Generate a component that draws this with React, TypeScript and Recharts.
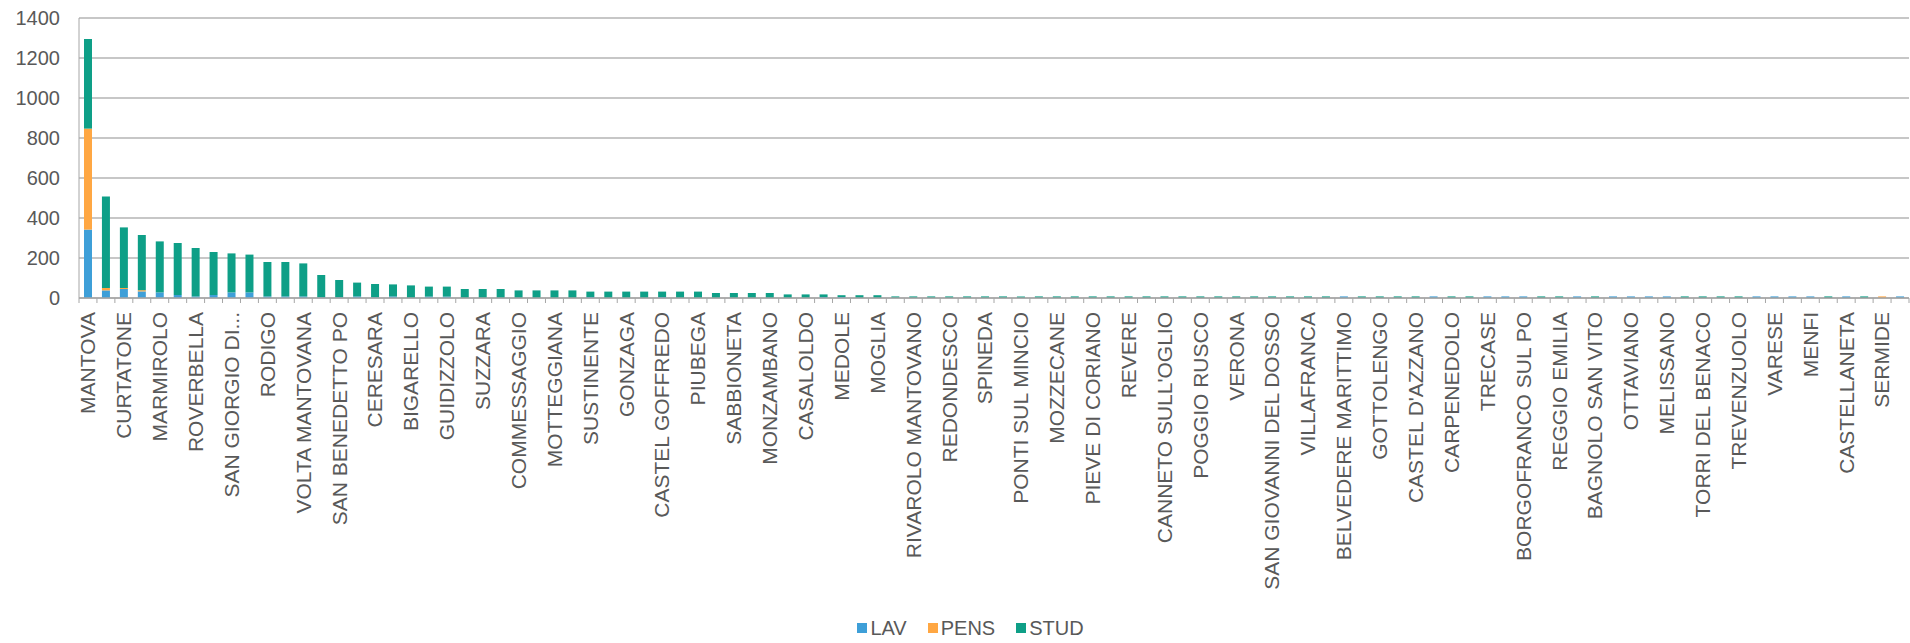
import { BarChart, Bar, XAxis, YAxis, CartesianGrid, Legend } from "recharts";

const categories = [
  "MANTOVA", "PORTO MANTOVANO", "CURTATONE", "BORGO VIRGILIO", "MARMIROLO",
  "CASTELLUCCHIO", "ROVERBELLA", "CASTEL D'ARIO", "SAN GIORGIO DI...", "GOITO",
  "RODIGO", "VILLIMPENTA", "VOLTA MANTOVANA", "CASTELBELFORTE", "SAN BENEDETTO PO",
  "SAN MARTINO DALL'ARGINE", "CERESARA", "ASOLA", "BIGARELLO", "DOSOLO",
  "GUIDIZZOLO", "QUISTELLO", "SUZZARA", "MARCARIA", "COMMESSAGGIO",
  "GAZZUOLO", "MOTTEGGIANA", "OSTIGLIA", "SUSTINENTE", "CAVRIANA",
  "GONZAGA", "VIADANA", "CASTEL GOFFREDO", "BOZZOLO", "PIUBEGA",
  "SOLFERINO", "SABBIONETA", "POMPONESCO", "MONZAMBANO", "CASALMORO",
  "CASALOLDO", "ACQUANEGRA SUL CHIESE", "MEDOLE", "SERRAVALLE A PO", "MOGLIA",
  "SCHIVENOGLIA", "RIVAROLO MANTOVANO", "MARIANA MANTOVANA", "REDONDESCO", "CASTIGLIONE DELLE STIVIERE",
  "SPINEDA", "RONCOFERRARO", "PONTI SUL MINCIO", "SAN GIACOMO DELLE SEGNATE", "MOZZECANE",
  "PEGOGNAGA", "PIEVE DI CORIANO", "GAZOLDO DEGLI IPPOLITI", "REVERE", "BORGO MANTOVANO",
  "CANNETO SULL'OGLIO", "CASALROMANO", "POGGIO RUSCO", "QUINGENTOLE", "VERONA",
  "BRESCIA", "SAN GIOVANNI DEL DOSSO", "CREMONA", "VILLAFRANCA", "MILANO",
  "BELVEDERE MARITTIMO", "BOLOGNA", "GOTTOLENGO", "PARMA", "CASTEL D'AZZANO",
  "MODENA", "CARPENEDOLO", "FERRARA", "TRECASE", "NAPOLI",
  "BORGOFRANCO SUL PO", "ROMA", "REGGIO EMILIA", "PADOVA", "BAGNOLO SAN VITO",
  "VICENZA", "OTTAVIANO", "BERGAMO", "MELISSANO", "LECCE",
  "TORRI DEL BENACO", "TARANTO", "TREVENZUOLO", "PALERMO", "VARESE",
  "BARI", "MENFI", "TORINO", "CASTELLANETA", "GENOVA",
  "SERMIDE", "FIRENZE",
];

const lav = [
  342, 38, 45, 33, 28, 15, 8, 15, 28, 28,
  8, 8, 8, 3, 3, 8, 3, 8, 0, 7,
  7, 0, 0, 0, 0, 0, 0, 0, 5, 0,
  0, 0, 5, 0, 0, 0, 0, 0, 0, 0,
  0, 5, 5, 0, 0, 0, 0, 0, 0, 0,
  0, 0, 0, 0, 0, 0, 0, 0, 0, 0,
  0, 0, 0, 0, 0, 0, 0, 0, 0, 0,
  8, 0, 0, 0, 0, 8, 0, 0, 8, 8,
  8, 0, 0, 8, 0, 8, 8, 8, 8, 0,
  0, 0, 0, 8, 8, 8, 8, 0, 8, 0,
  0, 8,
];

const pens = [
  505, 12, 5, 6, 0, 0, 0, 0, 0, 0,
  0, 0, 0, 0, 0, 0, 0, 0, 0, 0,
  0, 0, 0, 0, 0, 0, 0, 0, 0, 0,
  0, 0, 0, 0, 0, 0, 0, 0, 0, 0,
  0, 0, 0, 0, 0, 0, 0, 0, 0, 0,
  0, 0, 0, 0, 0, 0, 0, 0, 0, 0,
  0, 0, 0, 0, 0, 0, 0, 0, 0, 0,
  0, 0, 0, 0, 0, 0, 0, 0, 0, 0,
  0, 0, 0, 0, 0, 0, 0, 0, 0, 0,
  0, 0, 0, 0, 0, 0, 0, 0, 0, 0,
  8, 0,
];

const stud = [
  448, 457, 303, 276, 255, 260, 242, 215, 195, 189,
  172, 172, 165, 112, 87, 69, 67, 60, 63, 50,
  50, 45, 45, 45, 38, 38, 38, 38, 27, 32,
  32, 32, 27, 32, 32, 25, 25, 25, 25, 18,
  18, 13, 9, 14, 14, 8, 8, 8, 8, 8,
  8, 8, 8, 8, 8, 8, 8, 8, 8, 8,
  8, 8, 8, 8, 8, 8, 8, 8, 8, 8,
  0, 8, 8, 8, 8, 0, 8, 8, 0, 0,
  0, 8, 8, 0, 8, 0, 0, 0, 0, 8,
  8, 8, 8, 0, 0, 0, 0, 8, 0, 8,
  0, 0,
];

const yTicks = [0, 200, 400, 600, 800, 1000, 1200, 1400];

const SERIES = [
  { key: "LAV", color: "#3E9FD8" },
  { key: "PENS", color: "#FFA743" },
  { key: "STUD", color: "#0E9F87" },
];

const data = categories.map((name, i) => ({
  name,
  LAV: lav[i],
  PENS: pens[i],
  STUD: stud[i],
}));

const WIDTH = 1910;
const HEIGHT = 643;
const Y_AXIS_W = 79;
const RIGHT = 1;
const BAND = (WIDTH - Y_AXIS_W - RIGHT) / categories.length;

const AXIS_GRAY = "#a6a6a6";
const GRID_GRAY = "#b4b4b4";
const TEXT_GRAY = "#595959";
const FONT = "'Liberation Sans', Arial, sans-serif";

// Excel puts tick marks between categories and labels only every other one
function CategoryTick(props: any) {
  const { x, y, index, payload } = props;
  const last = index === categories.length - 1;
  return (
    <g>
      <line x1={x - BAND / 2} x2={x - BAND / 2} y1={y} y2={y + 5} stroke={AXIS_GRAY} />
      {last && (
        <line x1={x + BAND / 2} x2={x + BAND / 2} y1={y} y2={y + 5} stroke={AXIS_GRAY} />
      )}
      {index % 2 === 0 && (
        <text
          transform={`translate(${x},${y + 14}) rotate(-90)`}
          textAnchor="end"
          dy="0.35em"
          fill={TEXT_GRAY}
          fontSize={21}
          fontFamily={FONT}
        >
          {payload.value}
        </text>
      )}
    </g>
  );
}

function LegendContent() {
  return (
    <div
      style={{
        display: "flex",
        justifyContent: "center",
        alignItems: "center",
        gap: 21,
        height: 30,
        paddingLeft: 32,
        fontFamily: FONT,
        fontSize: 20,
        color: TEXT_GRAY,
      }}
    >
      {SERIES.map((s) => (
        <span key={s.key} style={{ display: "flex", alignItems: "center", gap: 3 }}>
          <span style={{ width: 10, height: 10, background: s.color, display: "inline-block" }} />
          {s.key}
        </span>
      ))}
    </div>
  );
}

export default function App() {
  return (
    <div style={{ position: "absolute", left: 0, top: 0, background: "#fff" }}>
      <BarChart
        width={WIDTH}
        height={HEIGHT}
        data={data}
        margin={{ top: 18, right: RIGHT, bottom: 0, left: 0 }}
        barSize={8}
      >
        <CartesianGrid vertical={false} stroke={GRID_GRAY} strokeWidth={1.5} />
        <XAxis
          dataKey="name"
          interval={0}
          height={315}
          tickSize={0}
          tickMargin={0}
          tickLine={false}
          axisLine={{ stroke: AXIS_GRAY, strokeWidth: 1.5 }}
          tick={<CategoryTick />}
        />
        <YAxis
          width={Y_AXIS_W}
          domain={[0, 1400]}
          ticks={yTicks}
          tickSize={0}
          tickMargin={19}
          tickLine={false}
          axisLine={{ stroke: AXIS_GRAY }}
          tick={{ fill: TEXT_GRAY, fontSize: 20, fontFamily: FONT }}
        />
        <Legend verticalAlign="bottom" height={30} content={<LegendContent />} />
        {SERIES.map((s) => (
          <Bar
            key={s.key}
            dataKey={s.key}
            stackId="a"
            fill={s.color}
            isAnimationActive={false}
          />
        ))}
      </BarChart>
    </div>
  );
}
